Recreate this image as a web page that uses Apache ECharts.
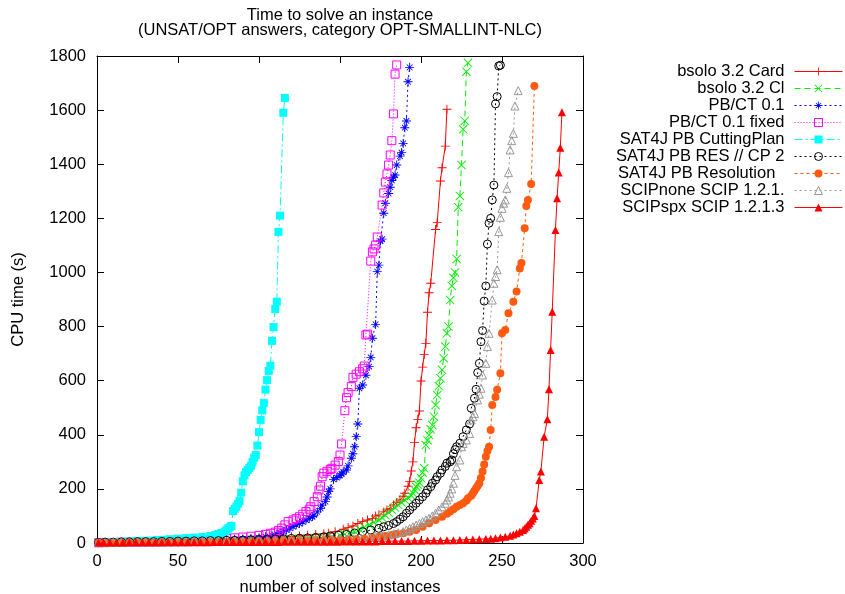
<!DOCTYPE html>
<html>
<head>
<meta charset="utf-8">
<title>Time to solve an instance</title>
<script src="https://cdn.jsdelivr.net/npm/echarts@6/dist/echarts.min.js"></script>
<style>
html, body { margin: 0; padding: 0; background: #fff; }
#chart { width: 845px; height: 594px; }
</style>
</head>
<body>
<div id="chart"></div>
<script>
// solver names, in legend order
var seriesNames = ['bsolo 3.2 Card', 'bsolo 3.2 Cl', 'PB/CT 0.1', 'PB/CT 0.1 fixed', 'SAT4J PB CuttingPlan',
  'SAT4J PB RES // CP 2', 'SAT4J PB Resolution  ', 'SCIPnone SCIP 1.2.1.', 'SCIPspx SCIP 1.2.1.3'];

// [number of solved instances, CPU time (s)]
var cardPts = [[1,2],[5,3],[10,3],[15,4],[20,4],[25,5],[30,5],[35,6],[40,6],[45,7],[50,8],[55,8],[60,9],[65,10],[70,11],[75,12],[80,13],[85,14],[90,15],[95,16],[100,17],[105,18],[110,20],[115,22],[120,24],[125,26],[130,29],[135,31],[140,34],[143,36],[147,42],[152,51],[155,57],[158,63],[161,72],[164,79],[167,85],[170,91],[172,100],[174,104],[177,115],[179,122],[181,128],[183,140],[185,150],[187,159],[189,173],[190,184],[192,210],[193,227],[194,266],[195,300],[196,372],[197,426],[198,457],[199,488],[200,599],[201,650],[202,697],[203,738],[204,853],[205,925],[206,960],[209,1159],[210,1184],[212,1338],[213,1387],[215,1467],[216,1603]];
var clPts = [[1,1],[5,2],[10,2],[15,3],[20,3],[25,3],[30,4],[35,4],[40,4],[45,5],[50,5],[55,6],[60,6],[65,6],[70,7],[75,7],[80,8],[85,8],[90,9],[95,9],[100,10],[105,11],[110,12],[115,13],[120,14],[125,15],[130,16],[135,18],[140,20],[145,24],[150,28],[153,32],[156,36],[159,43],[162,51],[165,58],[168,67],[171,76],[174,85],[176,94],[178,103],[180,112],[182,122],[184,131],[186,140],[188,150],[190,159],[192,167],[194,175],[195,184],[196,196],[197,208],[198,216],[199,223],[200,240],[201,260],[202,276],[203,362],[204,380],[205,399],[206,420],[207,436],[208,467],[209,510],[210,547],[211,580],[212,609],[213,640],[214,683],[215,726],[216,775],[217,800],[218,898],[219,950],[220,980],[221,1000],[222,1050],[223,1241],[224,1283],[225,1397],[226,1529],[227,1560],[228,1742],[229,1775]];
var pbctPts = [[1,1],[5,2],[10,2],[15,2],[20,3],[25,3],[30,3],[35,4],[40,4],[45,5],[50,5],[55,6],[60,6],[65,7],[70,8],[75,9],[80,10],[85,12],[90,14],[95,16],[100,19],[104,23],[108,28],[111,33],[113,37],[115,42],[117,48],[119,55],[121,61],[123,67],[125,72],[127,78],[129,85],[131,91],[133,98],[134,103],[136,115],[138,128],[139,140],[141,153],[142,170],[143,190],[144,200],[146,235],[148,242],[150,250],[151,255],[152,262],[154,270],[155,285],[157,313],[158,330],[159,356],[160,393],[161,440],[162,572],[164,584],[166,620],[168,652],[169,686],[170,757],[172,808],[173,1003],[174,1027],[175,1116],[176,1123],[177,1219],[178,1256],[180,1292],[181,1315],[182,1340],[183,1352],[184,1360],[185,1397],[187,1430],[188,1443],[189,1477],[190,1535],[191,1560],[192,1705],[193,1758]];
var pbctFixedPts = [[1,1],[5,2],[10,2],[15,3],[20,3],[25,3],[30,4],[35,4],[40,5],[45,5],[50,6],[55,7],[60,8],[65,10],[70,12],[75,14],[80,16],[85,19],[90,22],[95,25],[100,28],[104,32],[107,36],[110,40],[112,46],[114,55],[116,67],[118,79],[121,85],[123,90],[125,97],[127,106],[129,116],[131,125],[132,134],[134,153],[136,171],[137,196],[138,210],[139,245],[140,258],[142,265],[144,272],[145,276],[147,288],[149,301],[150,325],[151,366],[153,489],[154,537],[155,556],[157,578],[158,612],[160,624],[162,633],[164,644],[165,654],[166,769],[167,772],[169,1042],[170,1076],[171,1087],[172,1101],[173,1131],[176,1249],[177,1294],[178,1334],[179,1364],[180,1397],[181,1434],[182,1487],[183,1586],[184,1733],[185,1767]];
var cutPlanPts = [[1,1],[5,2],[9,3],[13,4],[17,5],[21,6],[25,7],[29,8],[33,9],[37,11],[41,12],[45,14],[50,16],[55,18],[60,20],[65,22],[70,26],[73,29],[75,33],[77,37],[79,42],[80,48],[81,54],[82,58],[83,63],[84,118],[85,126],[86,134],[87,145],[88,155],[89,186],[90,228],[91,250],[92,262],[93,270],[94,277],[95,285],[96,300],[97,315],[98,325],[99,360],[100,410],[101,455],[102,490],[103,517],[104,567],[105,602],[106,636],[107,655],[108,747],[109,798],[110,865],[111,892],[112,1150],[113,1210],[115,1590],[116,1645]];
var resCpPts = [[1,2],[5,3],[10,3],[15,4],[20,4],[25,5],[30,5],[35,5],[40,6],[45,6],[50,7],[55,7],[60,8],[65,8],[70,9],[75,9],[80,10],[85,10],[90,11],[95,12],[100,13],[105,14],[110,15],[115,16],[120,17],[125,18],[130,19],[135,21],[140,23],[144,26],[149,29],[154,32],[159,37],[164,42],[169,48],[174,54],[177,60],[180,65],[183,72],[185,79],[187,88],[189,97],[191,110],[193,122],[195,135],[197,147],[199,159],[201,171],[203,184],[204,196],[206,208],[207,221],[209,233],[210,245],[212,258],[213,270],[215,283],[216,295],[218,300],[219,307],[220,330],[221,345],[222,356],[224,369],[226,393],[228,418],[230,440],[231,498],[233,535],[234,568],[235,630],[236,664],[237,744],[238,785],[239,894],[240,950],[241,1105],[242,1182],[243,1200],[244,1268],[245,1323],[246,1623],[247,1650],[248,1763],[249,1766]];
var resolutionPts = [[1,1],[5,1],[10,1],[15,2],[20,2],[25,2],[30,2],[35,3],[40,3],[45,3],[50,3],[55,3],[60,4],[65,4],[70,4],[75,4],[80,5],[85,5],[90,5],[95,6],[100,6],[105,6],[110,7],[115,7],[120,8],[125,8],[130,9],[135,10],[140,10],[145,11],[150,12],[155,13],[160,14],[165,16],[170,19],[174,23],[178,26],[182,30],[185,33],[189,36],[193,42],[197,48],[201,60],[205,73],[209,85],[213,97],[216,108],[218,116],[220,125],[222,134],[224,140],[226,147],[228,156],[229,165],[231,175],[232,184],[233,193],[234,202],[235,212],[236,221],[237,240],[238,264],[239,290],[240,319],[241,340],[242,356],[243,418],[244,510],[246,540],[247,566],[249,627],[250,775],[252,787],[254,849],[257,892],[259,930],[261,1015],[262,1035],[264,1163],[265,1246],[266,1268],[268,1327],[270,1689]];
var scipNonePts = [[1,1],[5,1],[10,2],[15,2],[20,2],[25,3],[30,3],[35,3],[40,3],[45,4],[50,4],[55,4],[60,5],[65,5],[70,5],[75,6],[80,6],[85,6],[90,7],[95,7],[100,8],[105,8],[110,9],[115,9],[120,10],[125,11],[130,12],[135,12],[140,13],[145,13],[150,14],[154,14],[158,16],[163,18],[168,21],[172,24],[176,27],[180,30],[183,34],[186,38],[189,42],[191,48],[193,54],[195,60],[197,66],[199,72],[201,79],[203,85],[205,91],[207,100],[209,110],[211,122],[213,134],[215,147],[216,159],[217,170],[218,184],[219,200],[220,221],[221,250],[222,282],[224,307],[225,356],[226,368],[228,381],[230,405],[231,455],[232,467],[233,479],[235,529],[236,550],[237,572],[238,621],[240,664],[241,726],[242,775],[244,898],[245,960],[246,985],[247,1010],[248,1151],[249,1204],[250,1237],[251,1256],[252,1268],[253,1311],[254,1369],[255,1453],[256,1487],[257,1514],[258,1615],[260,1672]];
var scipSpxPts = [[1,2],[4,2],[8,2],[12,2],[16,2],[20,3],[24,3],[28,3],[32,3],[36,3],[40,3],[44,3],[48,3],[52,3],[56,3],[60,3],[64,3],[68,3],[72,4],[76,4],[80,4],[84,4],[88,4],[92,4],[96,4],[100,4],[104,4],[108,4],[112,4],[116,5],[120,5],[124,5],[128,5],[132,5],[136,5],[140,5],[144,5],[148,5],[152,6],[156,6],[160,6],[164,6],[168,6],[172,6],[176,7],[180,7],[184,7],[188,7],[192,7],[196,8],[200,8],[204,9],[208,9],[212,9],[216,10],[220,10],[224,11],[228,12],[232,13],[236,14],[240,15],[243,16],[246,18],[249,20],[252,23],[255,27],[257,31],[259,36],[261,42],[263,48],[264,54],[265,60],[266,67],[267,73],[268,82],[269,91],[270,100],[271,128],[273,233],[274,264],[276,393],[278,457],[279,568],[280,713],[281,855],[283,1157],[284,1274],[285,1369],[286,1461],[287,1592]];

var FONT = '"Liberation Sans", Arial, sans-serif';
var FS = 16.5;

// gnuplot-like point shapes
var plusSym = 'path://M-1,-10H1V-1H10V1H1V10H-1V1H-10V-1H-1Z';
var crossSym = 'path://M-10,-8.6L-8.6,-10L10,8.6L8.6,10Z M10,-8.6L-8.6,10L-10,8.6L8.6,-10Z';
var starSym = 'path://M-1,-10H1V-1H10V1H1V10H-1V1H-10V-1H-1Z M-7,-5.6L-5.6,-7L7,5.6L5.6,7Z M7,-5.6L-5.6,7L-7,5.6L5.6,-7Z';

function mk(name, data, color, symbol, size, dash, hollow) {
  return {
    name: name,
    type: 'line',
    data: data,
    symbol: symbol,
    symbolSize: size,
    clip: true,
    lineStyle: { color: color, width: 1, type: dash },
    itemStyle: hollow
      ? { color: 'rgba(255,255,255,0)', borderColor: color, borderWidth: 1 }
      : { color: color, borderWidth: 0 },
    emphasis: { disabled: true }
  };
}

var series = [
  mk(seriesNames[0], cardPts, '#ff0000', plusSym, 9, 'solid', false),
  mk(seriesNames[1], clPts, '#00ee00', crossSym, 9, [6, 4], false),
  mk(seriesNames[2], pbctPts, '#0000ff', starSym, 9, [2, 3], false),
  mk(seriesNames[3], pbctFixedPts, '#ff00ff', 'rect', 8, [1, 2], true),
  mk(seriesNames[4], cutPlanPts, '#00ffff', 'rect', 8, [8, 3, 2, 3], false),
  mk(seriesNames[5], resCpPts, '#000000', 'circle', 8, [2, 3], true),
  mk(seriesNames[6], resolutionPts, '#ff5a10', 'circle', 8, [3, 3], false),
  mk(seriesNames[7], scipNonePts, '#999999', 'triangle', 8, [2, 3], true),
  mk(seriesNames[8], scipSpxPts, '#ff0000', 'triangle', 8, 'solid', false)
];

function plain(v) { return String(v); }

function xAx(pos, show) {
  return {
    type: 'value', position: pos, min: 0, max: 300, interval: 50,
    axisLine: { show: true, onZero: false, lineStyle: { color: '#000', width: 1 } },
    axisTick: { show: true, inside: true, length: 7, lineStyle: { color: '#000' } },
    axisLabel: { show: show, color: '#000', fontSize: FS, fontFamily: FONT, margin: 10, formatter: plain },
    splitLine: { show: false },
    name: show ? 'number of solved instances' : '',
    nameLocation: 'middle', nameGap: 36,
    nameTextStyle: { color: '#000', fontSize: FS, fontFamily: FONT }
  };
}
function yAx(pos, show) {
  return {
    type: 'value', position: pos, min: 0, max: 1800, interval: 200,
    axisLine: { show: true, onZero: false, lineStyle: { color: '#000', width: 1 } },
    axisTick: { show: true, inside: true, length: 7, lineStyle: { color: '#000' } },
    axisLabel: { show: show, color: '#000', fontSize: FS, fontFamily: FONT, margin: 11, formatter: plain },
    splitLine: { show: false },
    name: show ? 'CPU time (s)' : '',
    nameLocation: 'middle', nameGap: 70, nameRotate: 90,
    nameTextStyle: { color: '#000', fontSize: FS, fontFamily: FONT }
  };
}

var chart = echarts.init(document.getElementById('chart'), null, { renderer: 'canvas' });
chart.setOption({
  animation: false,
  backgroundColor: '#fff',
  textStyle: { fontFamily: FONT },
  graphic: [
    { type: 'text', x: 340, y: 15, style: { text: 'Time to solve an instance', fill: '#000',
      font: FS + 'px ' + FONT, align: 'center', verticalAlign: 'middle' } },
    { type: 'text', x: 340, y: 30.5, style: { text: '(UNSAT/OPT answers, category OPT-SMALLINT-NLC)', fill: '#000',
      font: FS + 'px ' + FONT, align: 'center', verticalAlign: 'middle' } }
  ],
  grid: { left: 97, right: 262, top: 56, bottom: 51, containLabel: false, outerBoundsMode: 'none' },
  xAxis: [xAx('bottom', true), xAx('top', false)],
  yAxis: [yAx('left', true), yAx('right', false)],
  legend: {
    orient: 'vertical', align: 'right', right: 2, top: 63, padding: 0,
    itemWidth: 48, itemHeight: 10, itemGap: 0,
    selectedMode: false,
    data: seriesNames,
    lineStyle: { width: 1 },
    itemStyle: { borderWidth: 1 },
    textStyle: { color: '#000', fontSize: FS, fontFamily: FONT, lineHeight: 17, padding: [0, 5, 0, 0] }
  },
  series: series
});
</script>
</body>
</html>
